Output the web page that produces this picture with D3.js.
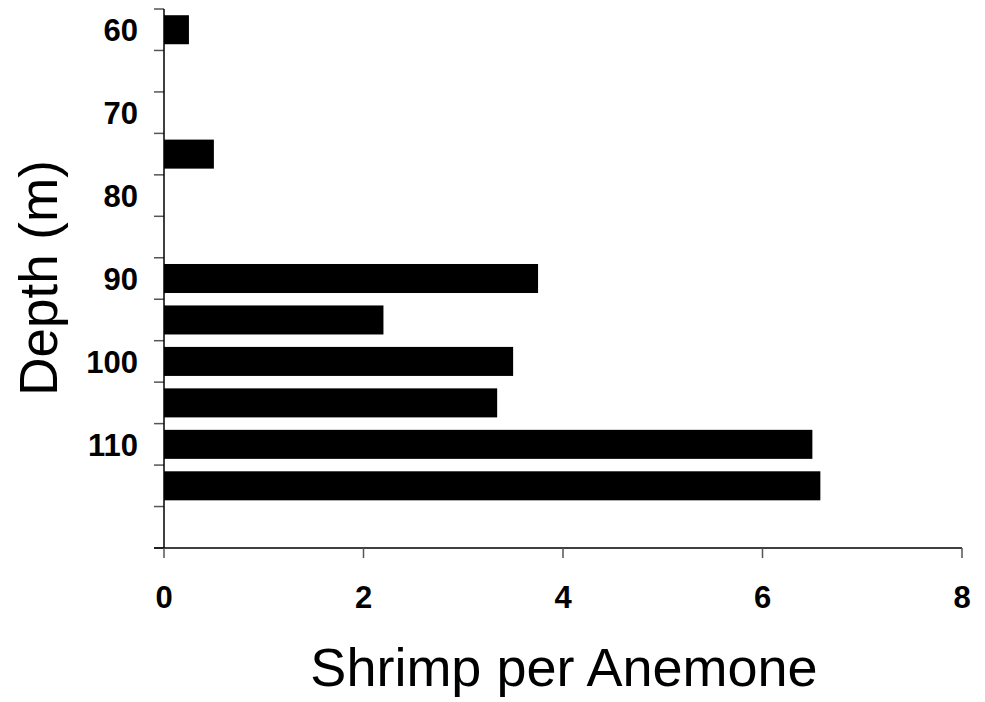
<!DOCTYPE html>
<html>
<head>
<meta charset="UTF-8">
<title>Shrimp per Anemone</title>
<script src="https://cdn.jsdelivr.net/npm/d3@7"></script>
<style>
  body { margin: 0; background: #fff; }
  text { font-family: Arial, "Liberation Sans", sans-serif; }
</style>
</head>
<body>
<svg width="985" height="702"></svg>
<script>
  // depth bins (m), one per 5 m
  var depths = [60, 65, 70, 75, 80, 85, 90, 95, 100, 105, 110, 115, 120];
  var shrimp = [0.25, 0, 0, 0.5, 0, 0, 3.75, 2.2, 3.5, 3.34, 6.5, 6.58, 0];
  var depthLabels = [60, 70, 80, 90, 100, 110];
  var xTicks = [0, 2, 4, 6, 8];

  var svg = d3.select("svg");
  var plotL = 164, plotR = 962, plotT = 9, plotB = 548;

  var x = d3.scaleLinear().domain([0, 8]).range([plotL, plotR]);
  var y = d3.scaleBand().domain(depths).range([plotT, plotB]).paddingInner(0.3).paddingOuter(0.15);

  // bars
  svg.append("g").selectAll("rect")
    .data(depths.map(function(d, i) { return { depth: d, v: shrimp[i] }; }).filter(function(d) { return d.v > 0; }))
    .enter().append("rect")
    .attr("x", x(0))
    .attr("y", function(d) { return y(d.depth); })
    .attr("width", function(d) { return x(d.v) - x(0); })
    .attr("height", y.bandwidth())
    .attr("fill", "#000");

  // y axis: ticks at band boundaries
  var boundaries = d3.range(depths.length + 1).map(function(i) { return plotT + i * (plotB - plotT) / depths.length; });
  var gy = svg.append("g");
  gy.selectAll("line.tick").data(boundaries).enter().append("line")
    .attr("x1", plotL - 10).attr("x2", plotL)
    .attr("y1", function(d) { return d; }).attr("y2", function(d) { return d; })
    .attr("stroke", "#555").attr("stroke-width", 1.5);
  gy.append("line").attr("x1", plotL).attr("x2", plotL).attr("y1", plotT).attr("y2", plotB)
    .attr("stroke", "#000").attr("stroke-width", 1.5);
  gy.selectAll("text").data(depthLabels).enter().append("text")
    .attr("x", 138)
    .attr("y", function(d) { return y(d) + y.bandwidth() / 2; })
    .attr("dy", "0.36em")
    .attr("text-anchor", "end")
    .attr("font-size", 31).attr("font-weight", "bold")
    .text(function(d) { return d; });

  // x axis
  var gx = svg.append("g");
  gx.append("line").attr("x1", plotL - 10).attr("x2", plotR).attr("y1", plotB).attr("y2", plotB)
    .attr("stroke", "#000").attr("stroke-width", 1.5);
  gx.selectAll("line.tick").data(xTicks).enter().append("line")
    .attr("x1", function(d) { return x(d); }).attr("x2", function(d) { return x(d); })
    .attr("y1", plotB).attr("y2", plotB + 10)
    .attr("stroke", "#555").attr("stroke-width", 1.5);
  gx.selectAll("text").data(xTicks).enter().append("text")
    .attr("x", function(d) { return x(d); })
    .attr("y", 608)
    .attr("text-anchor", "middle")
    .attr("font-size", 31).attr("font-weight", "bold")
    .text(function(d) { return d; });

  // titles
  svg.append("text")
    .attr("x", 564).attr("y", 686)
    .attr("text-anchor", "middle")
    .attr("font-size", 54)
    .text("Shrimp per Anemone");
  svg.append("text")
    .attr("transform", "translate(57,278) rotate(-90)")
    .attr("text-anchor", "middle")
    .attr("font-size", 53)
    .text("Depth (m)");
</script>
</body>
</html>
